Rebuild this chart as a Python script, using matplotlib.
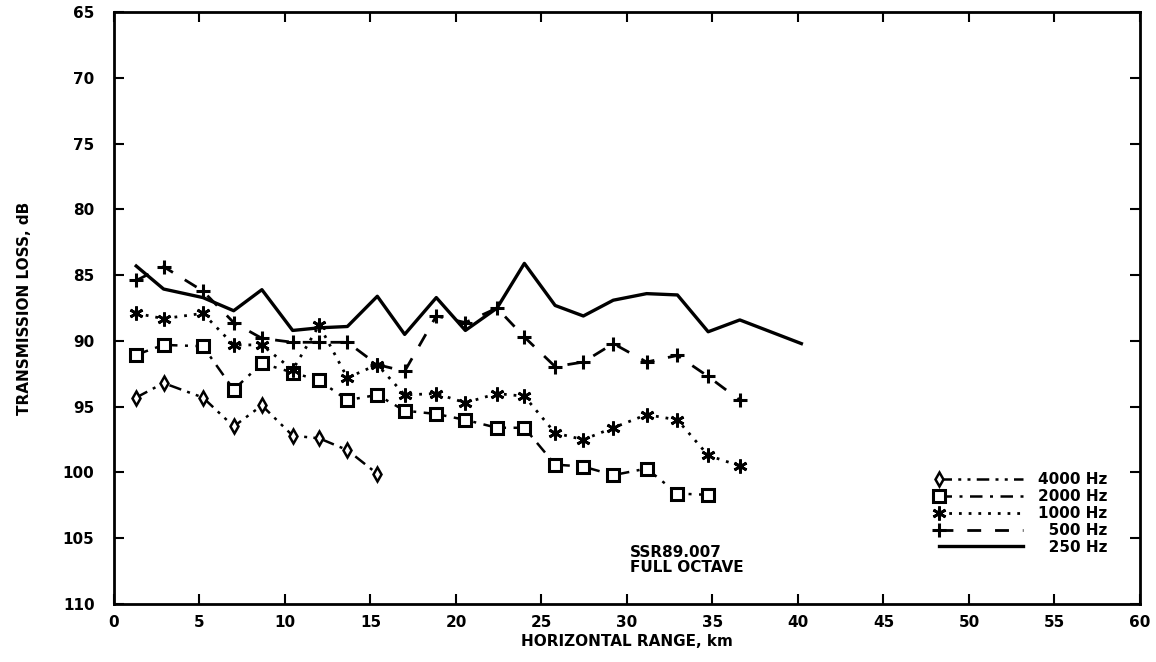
import numpy as np
import matplotlib
matplotlib.use('Agg')
import matplotlib.pyplot as plt
from matplotlib.legend_handler import HandlerLine2D

# ranges (km) shared by the runs
rng = [1.3, 2.9, 5.2, 7.0, 8.65, 10.45, 12.0, 13.65, 15.4, 17.0, 18.85,
       20.55, 22.4, 24.0, 25.8, 27.45, 29.2, 31.15, 32.95, 34.75, 36.6, 40.2]

tl_250 = [84.3, 86.05, 86.7, 87.7, 86.1, 89.2, 89.0, 88.9, 86.6, 89.5, 86.7,
          89.2, 87.5, 84.1, 87.3, 88.1, 86.9, 86.4, 86.5, 89.3, 88.4, 90.2]
tl_500 = [85.4, 84.35, 86.2, 88.6, 89.8, 90.1, 90.1, 90.1, 91.8, 92.3, 88.1,
          88.6, 87.5, 89.7, 91.95, 91.6, 90.2, 91.6, 91.1, 92.7, 94.5]
tl_1000 = [87.9, 88.3, 87.9, 90.3, 90.3, 92.2, 88.8, 92.8, 91.8, 94.1, 94.0,
           94.7, 94.0, 94.2, 97.0, 97.5, 96.6, 95.6, 96.0, 98.7, 99.5]
tl_2000 = [91.05, 90.3, 90.4, 93.7, 91.7, 92.4, 93.0, 94.5, 94.1, 95.3, 95.55,
           96.0, 96.6, 96.6, 99.4, 99.55, 100.2, 99.7, 101.6, 101.7]
tl_4000 = [94.3, 93.2, 94.3, 96.5, 94.9, 97.2, 97.4, 98.3, 100.1]

xticks = list(range(0, 61, 5))
yticks = list(range(65, 111, 5))


class LeftMarker(HandlerLine2D):
    # single marker at the left end of the legend line
    def create_artists(self, *args, **kwargs):
        arts = super().create_artists(*args, **kwargs)
        for a in arts:
            a.set_markevery([0])
        return arts


plt.rcParams['font.family'] = ['DejaVu Sans']
plt.rcParams['font.weight'] = 'bold'

fig = plt.figure(figsize=(11.56, 6.62), dpi=100)
ax = fig.add_axes([0.0986, 0.0876, 0.8875, 0.894])

ax.plot(rng[:len(tl_4000)], tl_4000, color='black', lw=1.8,
        ls=(0, (5, 2.5, 1.2, 2.5, 1.2, 2.5)), marker='d', ms=7,
        mfc='white', mew=1.8, label='4000 Hz')
ax.plot(rng[:len(tl_2000)], tl_2000, color='black', lw=1.8,
        ls=(0, (5, 3, 1.2, 3)), marker='s', ms=9,
        mfc='white', mew=2.2, label='2000 Hz')
ax.plot(rng[:len(tl_1000)], tl_1000, color='black', lw=2,
        ls=(0, (1, 2.5)), marker=(6, 2, 0), ms=10, mew=2,
        label='1000 Hz')
ax.plot(rng[:len(tl_500)], tl_500, color='black', lw=2,
        ls=(0, (5, 5)), marker='+', ms=10, mew=2.2, label='\u2007500 Hz')
ax.plot(rng, tl_250, color='black', lw=2.4, label='\u2007250 Hz')

ax.set_xlim(0, 60)
ax.set_ylim(110, 65)
ax.set_xticks(xticks)
ax.set_yticks(yticks)
ax.tick_params(direction='in', length=7, width=1.5, top=True, right=True,
               labelsize=11)
ax.tick_params(axis='y', pad=14)
ax.tick_params(axis='x', pad=8)
for sp in ax.spines.values():
    sp.set_linewidth(2)

ax.set_xlabel('HORIZONTAL RANGE, km', fontsize=11, fontweight='bold', labelpad=3)
ax.set_ylabel('TRANSMISSION LOSS, dB', fontsize=11, fontweight='bold', labelpad=22)

ax.text(0.503, 0.1, 'SSR89.007\nFULL OCTAVE', transform=ax.transAxes,
        fontsize=11, fontweight='bold', va='top', ha='left', linespacing=1.05)

leg = ax.legend(loc='lower right', bbox_to_anchor=(0.982, 0.06), frameon=False,
                handlelength=5.5, handletextpad=1.0, labelspacing=0.12,
                numpoints=1, prop={'size': 11, 'weight': 'bold'},
                handler_map={matplotlib.lines.Line2D: LeftMarker()})

fig.savefig('out.png', dpi=100)
